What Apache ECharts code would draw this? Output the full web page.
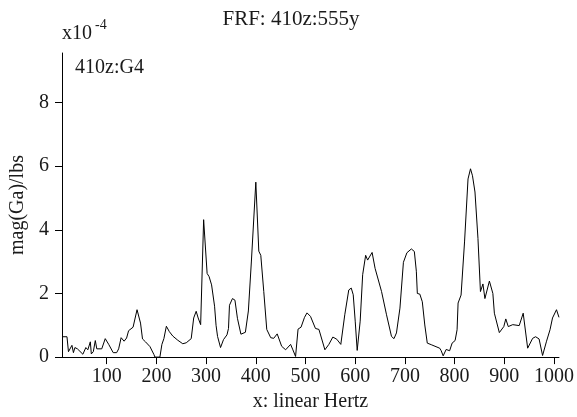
<!DOCTYPE html>
<html>
<head>
<meta charset="utf-8">
<script src="https://cdn.jsdelivr.net/npm/echarts@6/dist/echarts.min.js"></script>
<style>html,body{margin:0;padding:0;background:#fff}#c{width:577px;height:417px}</style>
</head>
<body>
<div id="c"></div>
<script>
// frequency (Hz)
const freq = [10,20,23,30,33,36,41,52,58,62,67,69,73,77,80,90,97,104,113,120,124,129,135,140,144,153,161,168,172,178,187,195,197,207,211,215,220,226,233,243,253,260,270,275,280,284,289,295,302,306,311,317,320,323,329,335,342,345,347,353,358,363,370,379,385,391,400,406,410,416,422,430,436,443,452,460,470,474,480,485,491,498,503,510,520,527,539,547,555,563,571,579,587,592,596,600,604,610,615,621,625,634,640,653,663,673,678,683,690,697,704,713,719,723,725,730,735,740,745,753,770,773,777,783,790,795,801,805,807,813,820,827,832,836,841,847,852,857,861,870,877,880,890,899,903,908,917,930,938,947,957,963,970,977,985,992,997,1005,1010];
// magnitude (x10^-4 Ga/lbs)
const mag = [0.64,0.64,0.17,0.37,0.14,0.30,0.26,0.09,0.30,0.23,0.48,0.10,0.17,0.52,0.26,0.26,0.58,0.40,0.14,0.14,0.26,0.61,0.50,0.60,0.83,0.94,1.49,1.07,0.57,0.48,0.33,0.08,0.00,0.00,0.40,0.58,0.97,0.80,0.66,0.53,0.42,0.45,0.58,1.23,1.44,1.23,1.02,4.32,2.63,2.53,2.27,1.60,1.00,0.65,0.30,0.55,0.70,0.90,1.63,1.84,1.79,1.22,0.72,0.78,1.45,2.99,5.50,3.33,3.20,2.06,0.87,0.61,0.59,0.73,0.34,0.23,0.40,0.25,0.02,0.88,0.94,1.25,1.39,1.28,0.90,0.87,0.23,0.40,0.63,0.56,0.40,1.33,2.11,2.17,1.96,1.13,0.21,1.13,2.59,3.20,3.05,3.29,2.79,2.06,1.33,0.65,0.58,0.76,1.54,2.98,3.28,3.40,3.32,2.70,2.00,1.98,1.74,1.01,0.44,0.39,0.28,0.20,0.04,0.24,0.20,0.44,0.52,0.86,1.70,1.95,3.62,5.60,5.92,5.70,5.19,3.73,2.06,2.30,1.84,2.39,2.00,1.38,0.77,0.96,1.20,0.96,1.02,0.99,1.38,0.28,0.59,0.64,0.57,0.05,0.50,0.86,1.23,1.49,1.25];
const xTicks = [100,200,300,400,500,600,700,800,900,1000];
const yTicks = [0,2,4,6,8];

const FONT = 'Liberation Serif';
const TXT = '#1a1a1a';
const chart = echarts.init(document.getElementById('c'), null, {renderer: 'canvas'});
chart.setOption({
  animation: false,
  backgroundColor: '#fff',
  grid: {left: 62, top: 53, width: 500, height: 306, containLabel: false},
  xAxis: {
    type: 'value', min: 10, max: 1010,
    name: 'x: linear Hertz', nameLocation: 'middle', nameGap: 31,
    nameTextStyle: {fontFamily: FONT, fontSize: 20, color: TXT},
    axisLine: {show: true, lineStyle: {color: '#000', width: 1}},
    axisTick: {show: true, length: 7, lineStyle: {color: '#000'}, customValues: xTicks},
    axisLabel: {fontFamily: FONT, fontSize: 20, color: TXT, margin: 10, customValues: xTicks, formatter: v => String(v)},
    splitLine: {show: false}
  },
  yAxis: {
    type: 'value', min: 0, max: 9.56,
    name: 'mag(Ga)/lbs', nameLocation: 'middle', nameGap: 33,
    nameTextStyle: {fontFamily: FONT, fontSize: 20, color: TXT},
    axisLine: {show: true, lineStyle: {color: '#000', width: 1}},
    axisTick: {show: true, length: 7, lineStyle: {color: '#000'}, customValues: yTicks},
    axisLabel: {fontFamily: FONT, fontSize: 20, color: TXT, margin: 13, customValues: yTicks, formatter: v => String(v)},
    splitLine: {show: false}
  },
  graphic: [
    {type: 'text', x: 291, y: 19, style: {text: 'FRF: 410z:555y', font: '21px "Liberation Serif"', fill: TXT, align: 'center', verticalAlign: 'middle'}},
    {type: 'text', x: 62, y: 34, style: {text: 'x10', font: '20px "Liberation Serif"', fill: TXT, align: 'left', verticalAlign: 'middle'}},
    {type: 'text', x: 95, y: 25, style: {text: '-4', font: '14px "Liberation Serif"', fill: TXT, align: 'left', verticalAlign: 'middle'}},
    {type: 'text', x: 75, y: 68, style: {text: '410z:G4', font: '20px "Liberation Serif"', fill: TXT, align: 'left', verticalAlign: 'middle'}}
  ],
  series: [{
    type: 'line',
    data: freq.map((f, i) => [f, mag[i]]),
    showSymbol: false,
    lineStyle: {color: '#000', width: 1},
    clip: true
  }]
});
</script>
</body>
</html>
